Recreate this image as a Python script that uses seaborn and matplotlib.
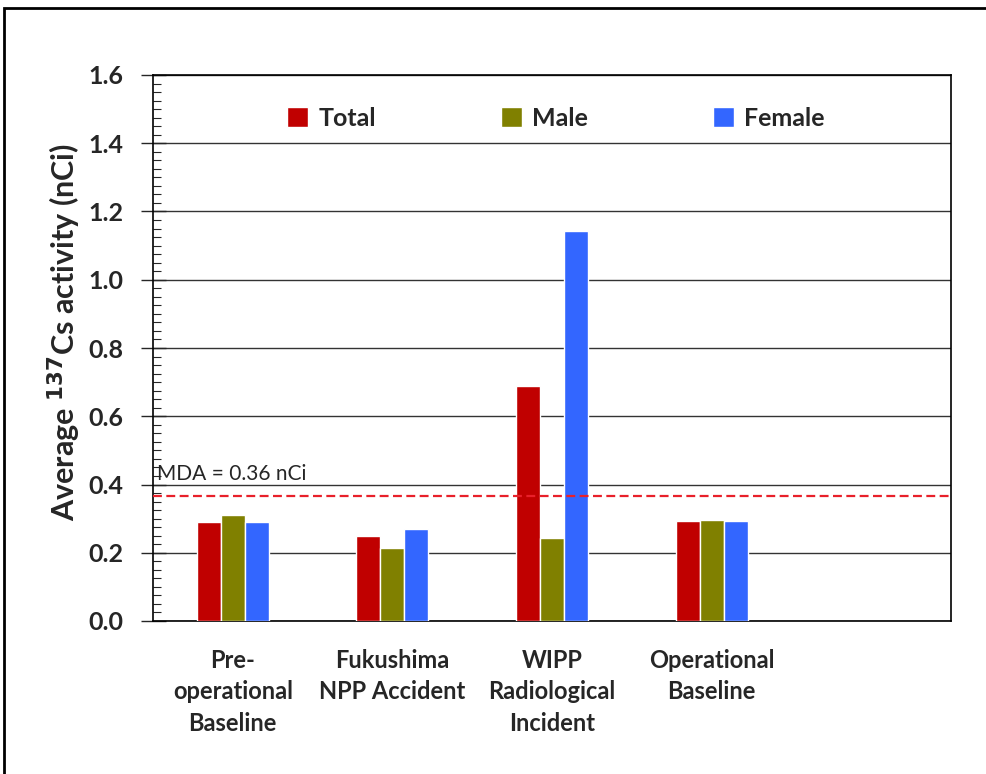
import seaborn as sns
import matplotlib.pyplot as plt
import pandas as pd
import numpy as np
from matplotlib.patches import Rectangle
from matplotlib.ticker import MultipleLocator

# data
periods = ['Pre-\noperational\nBaseline', 'Fukushima\nNPP Accident',
           'WIPP\nRadiological\nIncident', 'Operational\nBaseline']
groups = ['Total', 'Male', 'Female']
total = [0.29, 0.25, 0.69, 0.293]
male = [0.31, 0.213, 0.242, 0.296]
female = [0.29, 0.27, 1.143, 0.293]
mda = 0.365
colors = ['#C00000', '#808000', '#3366FF']

df = pd.DataFrame({
    'period': periods * 3,
    'group': [g for g in groups for _ in periods],
    'value': total + male + female,
})

sns.set_style('white')
plt.rcParams['font.family'] = ['Lato', 'DejaVu Sans']

fig = plt.figure(figsize=(9.87, 7.74), dpi=100)
ax = fig.add_axes([153 / 987, 1 - 621 / 774, (951 - 153) / 987, (621 - 75) / 774])

sns.barplot(data=df, x='period', y='value', hue='group', order=periods,
            hue_order=groups, palette=colors, width=0.45, saturation=1,
            ax=ax, zorder=3)
ax.set_xlim(-0.5, 4.5)
ax.set_ylim(0, 1.6)

# grid + ticks
ax.yaxis.set_major_locator(MultipleLocator(0.2))
ax.yaxis.set_minor_locator(MultipleLocator(0.025))
ax.grid(axis='y', which='major', color='#333333', linewidth=1, zorder=0)
ax.set_axisbelow(True)
ax.tick_params(axis='y', which='major', direction='inout', length=18,
               width=1, labelsize=18, pad=12, left=True)
ax.tick_params(axis='y', which='minor', direction='in', length=6, width=0.8, left=True)
ax.tick_params(axis='x', length=0, labelsize=17, pad=20)
ax.set_yticks(np.arange(0, 1.61, 0.2))
ax.set_yticklabels([f'{v:.1f}' for v in np.arange(0, 1.61, 0.2)], fontweight='bold')
ax.set_xticks(range(len(periods)))
ax.set_xticklabels(periods, fontweight='bold', linespacing=1.45)
for sp in ax.spines.values():
    sp.set_color('black')
    sp.set_linewidth(1.2)

ax.set_xlabel('')
ax.set_ylabel('Average $^{\\mathbf{137}}$Cs activity (nCi)', fontsize=22,
              fontweight='bold')
ax.yaxis.set_label_coords(-0.088, 0.530)

# MDA line
ax.axhline(mda, color='#E8202A', linestyle=(0, (4, 2)), linewidth=1.6, zorder=4)
ax.text(0.005, 0.432, 'MDA = 0.36 nCi', transform=ax.get_yaxis_transform(),
        fontsize=15, va='center', ha='left', zorder=5)

leg = ax.legend(loc='center', bbox_to_anchor=(0.505, 0.921), ncol=3, frameon=False,
                fontsize=18, handlelength=0.85, handleheight=0.9,
                handletextpad=0.4, columnspacing=5.0)
for t in leg.get_texts():
    t.set_fontweight('bold')

# frame around the whole picture
fig.patches.append(Rectangle((4.5 / 987, -0.05), 1.2, 1 - 7.5 / 774 + 0.05,
                             transform=fig.transFigure, fill=False,
                             edgecolor='black', linewidth=2, zorder=10))

fig.savefig('out.png', dpi=100)
